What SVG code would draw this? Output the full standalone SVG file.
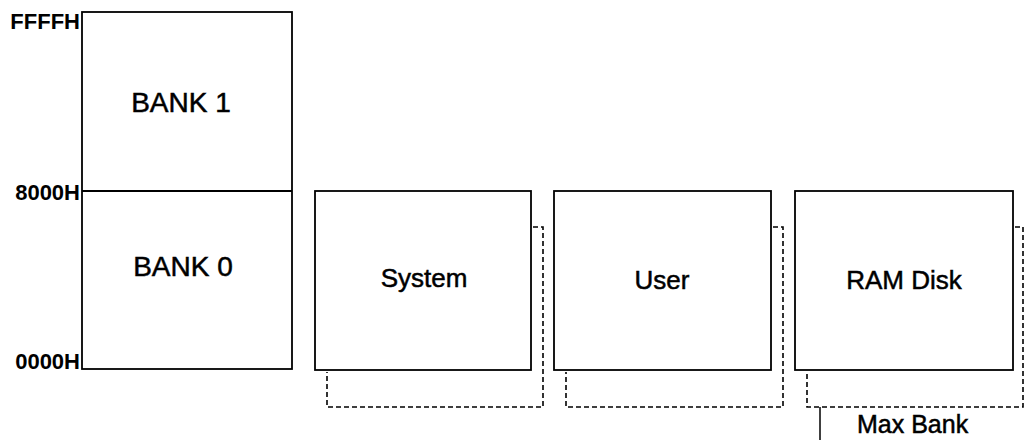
<svg xmlns="http://www.w3.org/2000/svg" width="1025" height="440" viewBox="0 0 1025 440">
<style>
.box{fill:#fff;stroke:#000;stroke-width:1.8}
.dash{fill:none;stroke:#000;stroke-width:1.6;stroke-dasharray:5 3}
.lbl{font-family:"Liberation Sans",Arial,sans-serif;font-size:26px;fill:#000;stroke:#000;stroke-width:0.5;text-anchor:middle}
.addr{font-family:"Liberation Sans",Arial,sans-serif;font-size:22px;font-weight:bold;fill:#000;text-anchor:end}
.line{stroke:#000;stroke-width:1.5;fill:none}
</style>
<rect width="1025" height="440" fill="#fff"/>
<g id="memory">
<rect class="box" x="82" y="12" width="210" height="357"/>
<line class="line" x1="82" y1="191" x2="292" y2="191" style="stroke-width:1.8"/>
<text class="lbl" x="181" y="112" style="font-size:28px">BANK 1</text>
<text class="lbl" x="183" y="276" style="font-size:28px">BANK 0</text>
<text class="addr" x="80" y="29">FFFFH</text>
<text class="addr" x="80" y="200">8000H</text>
<text class="addr" x="80" y="369">0000H</text>
</g>
<g id="system">
<polyline class="dash" points="533,227 543,227 543,407 327,407 327,372"/>
<rect class="box" x="315" y="191" width="216" height="179"/>
<text class="lbl" x="424" y="287">System</text>
</g>
<g id="user">
<polyline class="dash" points="773,227 783,227 783,407 566,407 566,372"/>
<rect class="box" x="554" y="191" width="217" height="179"/>
<text class="lbl" x="662" y="289">User</text>
</g>
<g id="ramdisk">
<polyline class="dash" points="1015,227 1023,227 1023,407 807,407 807,372"/>
<rect class="box" x="795" y="191" width="218" height="179"/>
<text class="lbl" x="904" y="289">RAM Disk</text>
</g>
<g id="connectors">
<line class="line" x1="820" y1="407" x2="820" y2="440"/>
</g>
<g id="maxbank">
<text class="lbl" x="857" y="433" style="text-anchor:start;font-size:25px">Max Bank</text>
</g>
</svg>
